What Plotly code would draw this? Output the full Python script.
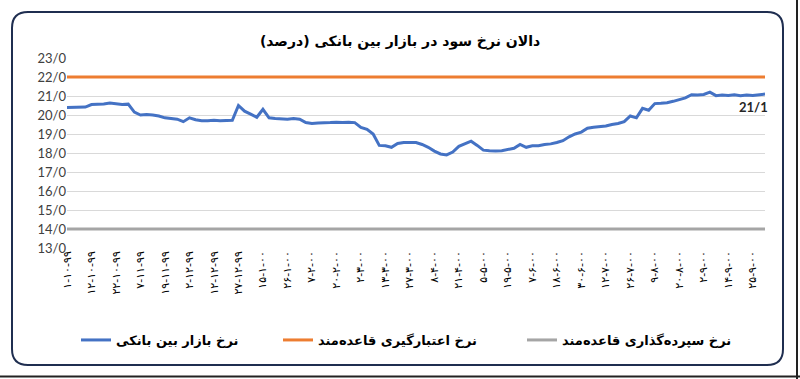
import plotly.graph_objects as go

# ---------------- data ----------------
x_labels = ["۱-۱۰-۹۹", "۱۲-۱۰-۹۹", "۲۲-۱۰-۹۹", "۷-۱۱-۹۹", "۱۹-۱۱-۹۹", "۲-۱۲-۹۹",
            "۱۲-۱۲-۹۹", "۲۷-۱۲-۹۹", "۱۵-۱-۰۰", "۲۶-۱-۰۰", "۷-۲-۰۰", "۲۰-۲-۰۰",
            "۲-۳-۰۰", "۱۳-۳-۰۰", "۲۷-۳-۰۰", "۸-۴-۰۰", "۲۱-۴-۰۰", "۵-۵-۰۰",
            "۱۹-۵-۰۰", "۷-۶-۰۰", "۱۸-۶-۰۰", "۳۰-۶-۰۰", "۱۲-۷-۰۰", "۲۶-۷-۰۰",
            "۹-۸-۰۰", "۲۰-۸-۰۰", "۲-۹-۰۰", "۱۴-۹-۰۰", "۲۵-۹-۰۰"]

interbank_rate = [
    20.40, 20.40, 20.40, 20.42, 20.55, 20.55, 20.58, 20.63, 20.60, 20.55,
    20.57, 20.15, 20.00, 20.02, 20.00, 19.95, 19.85, 19.82, 19.78, 19.65,
    19.85, 19.75, 19.70, 19.70, 19.72, 19.70, 19.72, 19.72, 20.50, 20.20,
    20.05, 19.88, 20.30, 19.85, 19.82, 19.80, 19.78, 19.82, 19.78, 19.60,
    19.55, 19.58, 19.58, 19.60, 19.62, 19.60, 19.62, 19.60, 19.35, 19.25,
    19.00, 18.40, 18.38, 18.30, 18.50, 18.55, 18.55, 18.55, 18.45, 18.30,
    18.10, 17.95, 17.90, 18.05, 18.35, 18.50, 18.62, 18.40, 18.15, 18.12,
    18.10, 18.12, 18.18, 18.25, 18.45, 18.30, 18.38, 18.38, 18.45, 18.48,
    18.55, 18.65, 18.85, 19.00, 19.10, 19.30, 19.35, 19.38, 19.42, 19.50,
    19.55, 19.65, 19.95, 19.85, 20.35, 20.25, 20.60, 20.62, 20.65, 20.72,
    20.80, 20.90, 21.07, 21.05, 21.08, 21.20, 21.02, 21.05, 21.03, 21.06,
    21.02, 21.05, 21.03, 21.06, 21.10]

lending_rate_value = 22.0
deposit_rate_value = 14.0
lending_rate = [lending_rate_value] * len(interbank_rate)
deposit_rate = [deposit_rate_value] * len(interbank_rate)

y_ticks = [13, 14, 15, 16, 17, 18, 19, 20, 21, 22, 23]
y_tick_text = [f"{v}/0" for v in y_ticks]

title_text = "دالان نرخ سود در بازار بین بانکی (درصد)\u200f"
name_interbank = "نرخ بازار بین بانکی"
name_lending = "نرخ اعتبارگیری قاعده\u200cمند"
name_deposit = "نرخ سپرده\u200cگذاری قاعده\u200cمند"
last_label = "21/1"

# ---------------- figure ----------------
idx = list(range(len(interbank_rate)))
tick_idx = [i * 4 for i in range(len(x_labels))]

W, H = 800, 379
ML, MR, MT, MB = 67, 35, 58, 131
PW, PH = W - ML - MR, H - MT - MB


def px_x(p):
    return (p - ML) / PW


def px_y(p):
    return (H - MB - p) / PH


fa_font = "DejaVu Sans"

fig = go.Figure()
fig.add_trace(go.Scatter(x=idx, y=interbank_rate, mode="lines", name=name_interbank,
                         line=dict(color="#4472C4", width=3), legend="legend",
                         showlegend=True))
fig.add_trace(go.Scatter(x=idx, y=lending_rate, mode="lines", name=name_lending,
                         line=dict(color="#ED7D31", width=3), legend="legend2",
                         showlegend=True))
fig.add_trace(go.Scatter(x=idx, y=deposit_rate, mode="lines", name=name_deposit,
                         line=dict(color="#A5A5A5", width=3), legend="legend3",
                         showlegend=True))

# rounded frame
x0, x1 = px_x(12), px_x(783)
y0, y1 = px_y(12), px_y(365)
rx, ry = 16 / PW, 16 / PH
path = (f"M {x0+rx},{y0} L {x1-rx},{y0} Q {x1},{y0} {x1},{y0-ry} "
        f"L {x1},{y1+ry} Q {x1},{y1} {x1-rx},{y1} "
        f"L {x0+rx},{y1} Q {x0},{y1} {x0},{y1+ry} "
        f"L {x0},{y0-ry} Q {x0},{y0} {x0+rx},{y0} Z")

shapes = [
    dict(type="path", xref="paper", yref="paper", path=path,
         line=dict(color="#1F2E50", width=2), layer="below"),
    dict(type="line", xref="paper", yref="paper", x0=px_x(797), x1=px_x(797),
         y0=px_y(0), y1=px_y(379), line=dict(color="#222222", width=2)),
    dict(type="line", xref="paper", yref="paper", x0=px_x(0), x1=px_x(800),
         y0=px_y(376.5), y1=px_y(376.5), line=dict(color="#222222", width=2)),
]

legend_common = dict(orientation="h", yanchor="middle", y=px_y(340),
                     xanchor="left", bgcolor="rgba(0,0,0,0)",
                     font=dict(family=fa_font, size=13, color="#000000", weight="bold"),
                     itemwidth=30, visible=True)

fig.update_layout(
    width=W, height=H,
    showlegend=True,
    margin=dict(l=ML, r=MR, t=MT, b=MB),
    paper_bgcolor="white", plot_bgcolor="white",
    title=dict(text=f"<b>{title_text}</b>", x=0.5, xref="container", xanchor="center",
               y=1 - 41 / H, yref="container", yanchor="middle",
               font=dict(family=fa_font, size=14, color="#000000")),
    xaxis=dict(range=[0, len(idx) - 1], tickmode="array", tickvals=tick_idx,
               ticktext=x_labels, tickangle=-90, showgrid=False, zeroline=False,
               showline=False, ticks="",
               tickfont=dict(family=fa_font, size=11, color="#000000")),
    yaxis=dict(range=[13, 23], tickmode="array", tickvals=y_ticks, ticktext=y_tick_text,
               showgrid=True, gridcolor="#D9D9D9", gridwidth=1, zeroline=False,
               showline=False, ticks="",
               tickfont=dict(family="Lato", size=13, color="#404040")),
    legend=dict(**legend_common, x=px_x(76)),
    legend2=dict(**legend_common, x=px_x(278)),
    legend3=dict(**legend_common, x=px_x(522)),
    shapes=shapes,
    annotations=[dict(x=idx[-1], y=interbank_rate[-1], xref="x", yref="y",
                      text=f"<b>{last_label}</b>", showarrow=False,
                      xanchor="center", yanchor="top", xshift=-12, yshift=-3,
                      font=dict(family="Lato", size=13, color="#262626"))],
)

fig.write_html("out.html")
